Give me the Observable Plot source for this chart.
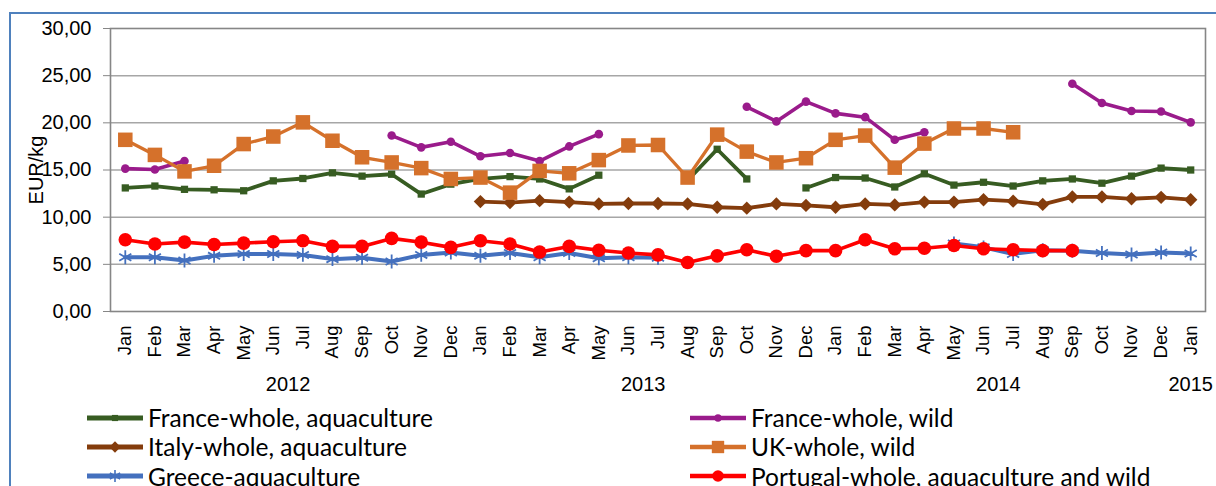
<!DOCTYPE html>
<html><head><meta charset="utf-8">
<script src="https://cdn.jsdelivr.net/npm/d3@7"></script>
<script src="https://cdn.jsdelivr.net/npm/@observablehq/plot@0.6"></script>
<style>
body{margin:0;background:#fff;overflow:hidden;width:1216px;height:486px;position:relative;}
#frame{position:absolute;left:9px;top:12px;width:1400px;height:700px;border:2px solid #4F81BD;}
#chart{position:absolute;left:0;top:0;}
#legend{position:absolute;left:87px;top:403px;display:grid;grid-template-columns:603px 520px;grid-auto-rows:29.3px;font-family:Lato,sans-serif;font-size:24.5px;color:#000;}
.item{display:flex;align-items:center;white-space:nowrap;}
.item svg{margin-right:5px;flex:none;}
</style></head><body>
<div id="frame"></div><div id="chart"></div><div id="legend"></div>
<script>
// ---- data ----
const monthNames = ["Jan","Feb","Mar","Apr","May","Jun","Jul","Aug","Sep","Oct","Nov","Dec"];
const startYear = 2012;
const nMonths = 37; // Jan 2012 .. Jan 2015
const yearLabels = ["2012","2013","2014","2015"];
const yTicks = [0,5,10,15,20,25,30];

const franceAqua = [13.1,13.3,12.95,12.9,12.8,13.85,14.1,14.7,14.35,14.55,12.45,13.5,
  14.05,14.3,14.05,13.0,14.45,null,null,13.9,17.2,14.05,null,13.1,
  14.2,14.15,13.2,14.6,13.4,13.7,13.3,13.85,14.05,13.6,14.35,15.2,
  15.0];
const franceWild = [15.15,15.05,15.95,null,null,null,null,null,null,18.65,17.4,18.0,
  16.45,16.8,15.95,17.5,18.8,null,null,null,null,21.7,20.15,22.25,
  21.0,20.6,18.2,19.0,null,null,null,null,24.15,22.1,21.25,21.2,
  20.05];
const italyAqua = [null,null,null,null,null,null,null,null,null,null,null,null,
  11.65,11.55,11.75,11.6,11.4,11.45,11.45,11.4,11.05,10.95,11.4,11.25,
  11.05,11.4,11.3,11.6,11.6,11.85,11.7,11.35,12.15,12.15,11.95,12.1,
  11.85];
const ukWild = [18.2,16.6,14.85,15.45,17.75,18.55,20.05,18.1,16.35,15.8,15.2,14.05,
  14.2,12.6,14.9,14.65,16.05,17.6,17.65,14.2,18.75,16.95,15.8,16.25,
  18.2,18.65,15.25,17.8,19.4,19.4,19.0,null,null,null,null,null,
  null];
const greeceAqua = [5.75,5.75,5.4,5.9,6.1,6.1,6.0,5.55,5.7,5.3,6.0,6.25,
  5.9,6.2,5.75,6.2,5.65,5.75,5.7,null,null,null,null,null,
  null,null,null,null,7.2,6.8,6.1,6.5,6.45,6.2,6.05,6.25,
  6.15];
const portugal = [7.6,7.15,7.35,7.1,7.25,7.4,7.5,6.9,6.9,7.75,7.35,6.8,
  7.5,7.15,6.3,6.9,6.5,6.2,6.0,5.2,5.9,6.55,5.85,6.45,
  6.45,7.6,6.65,6.7,7.0,6.65,6.55,6.45,6.45,null,null,null,
  null];

const seriesNames = ["France-whole, aquaculture","France-whole, wild","Italy-whole, aquaculture",
  "UK-whole, wild","Greece-aquaculture","Portugal-whole, aquaculture and wild"];

// ---- build ----
const idx = d3.range(nMonths);
const monthLabel = i => monthNames[i % 12];
const yearOf = i => String(startYear + Math.floor(i / 12));
const years = yearLabels.map(label => ({label, pos: d3.mean(idx.filter(i => yearOf(i) === label))}));

const series = [
  {name: seriesNames[0], values: franceAqua, color: "#375C22", symbol: "square", r: 4.1, sw: 3.8},
  {name: seriesNames[1], values: franceWild, color: "#9A1B8B", symbol: "circle", r: 4.3, sw: 3.6},
  {name: seriesNames[2], values: italyAqua, color: "#843C0C", symbol: "diamond2", r: 6.0, sw: 3.8},
  {name: seriesNames[3], values: ukWild, color: "#D5712B", symbol: "square", r: 8.2, sw: 3.3},
  {name: seriesNames[4], values: greeceAqua, color: "#4470BE", symbol: "asterisk", r: 6.6, sw: 4},
  {name: seriesNames[5], values: portugal, color: "#FF0000", symbol: "circle", r: 6.8, sw: 3.6}
];

const fmt = v => d3.format(".2f")(v).replace(".", ",");

const marks = [
  Plot.gridY({ticks: yTicks.filter(t => t > 0 && t < 30), stroke: "#a6a6a6", strokeOpacity: 1, strokeWidth: 1.5}),
  Plot.frame({stroke: "#868686", strokeWidth: 1.6}),
  Plot.axisY({ticks: yTicks, tickFormat: fmt, tickSize: 7, tickPadding: 12, stroke: "#868686", fill: "#000",
    fontSize: 20, label: "EUR/kg", labelAnchor: "center", labelArrow: "none", labelOffset: 82}),
  Plot.axisX({ticks: idx, tickFormat: monthLabel, tickRotate: -90, tickSize: 0, tickPadding: 14,
    fill: "#000", fontSize: 18.5, label: null}),
  Plot.text(years, {x: "pos", text: "label", frameAnchor: "bottom", dy: 79, fontSize: 20, fill: "#000"})
];
for (const s of series) {
  const pts = idx.map(i => ({i, v: s.values[i]}));
  marks.push(Plot.line(pts, {x: "i", y: "v", stroke: s.color, strokeWidth: s.sw, strokeLinejoin: "round"}));
  const defined = pts.filter(d => d.v != null);
  if (s.symbol === "asterisk") {
    marks.push(Plot.dot(defined, {x: "i", y: "v", symbol: s.symbol, r: s.r, stroke: s.color, strokeWidth: 1.8}));
  } else {
    marks.push(Plot.dot(defined, {x: "i", y: "v", symbol: s.symbol, r: s.r, fill: s.color, stroke: "none"}));
  }
}

const chart = Plot.plot({
  width: 1216, height: 400,
  marginLeft: 110, marginRight: 11, marginTop: 28, marginBottom: 89,
  style: {fontFamily: "'Liberation Sans', Arial, sans-serif", fontSize: "20px", color: "#000", background: "transparent", overflow: "visible"},
  x: {type: "linear", domain: [-0.5, nMonths - 0.5], axis: null},
  y: {domain: [0, 30], axis: null},
  marks
});
document.getElementById("chart").appendChild(chart);

// ---- legend ----
const legend = document.getElementById("legend");
const symMap = {square: d3.symbolSquare, circle: d3.symbolCircle, diamond2: d3.symbolDiamond2, asterisk: d3.symbolAsterisk};
for (const s of series) {
  const item = document.createElement("div");
  item.className = "item";
  const svg = d3.create("svg").attr("width", 56).attr("height", 22);
  svg.append("line").attr("x1", 0).attr("x2", 56).attr("y1", 11).attr("y2", 11)
    .attr("stroke", s.color).attr("stroke-width", s.sw + 1).attr("stroke-linecap", "round");
  const size = Math.PI * (s.r * 0.85) ** 2;
  const p = svg.append("path").attr("transform", "translate(28,11)")
    .attr("d", d3.symbol(symMap[s.symbol], size)());
  if (s.symbol === "asterisk") p.attr("fill", "none").attr("stroke", s.color).attr("stroke-width", 1.6);
  else p.attr("fill", s.color);
  item.appendChild(svg.node());
  const span = document.createElement("span");
  span.textContent = s.name;
  item.appendChild(span);
  legend.appendChild(item);
}
</script></body></html>
